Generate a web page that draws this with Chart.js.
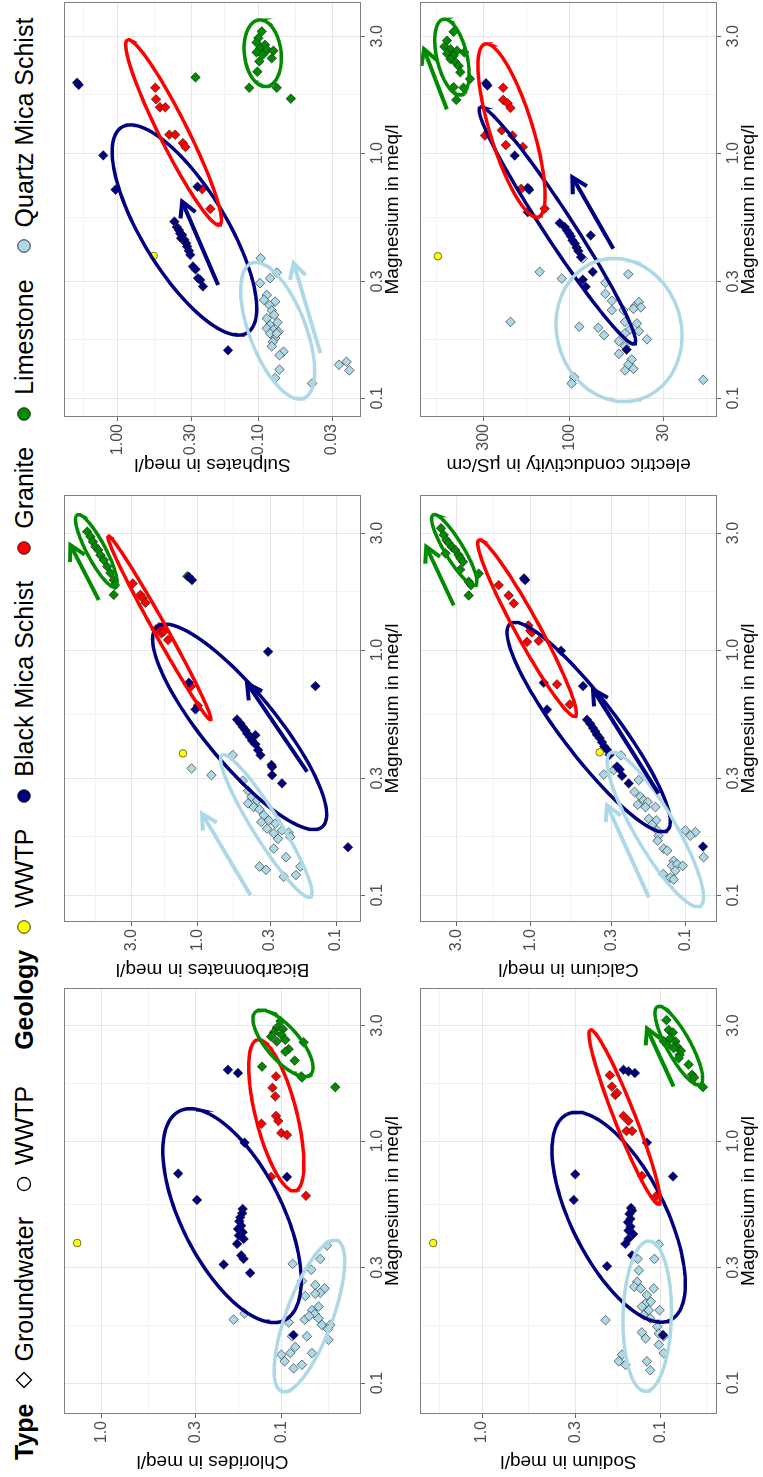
<!DOCTYPE html>
<html>
<head>
<meta charset="utf-8">
<script src="https://cdn.jsdelivr.net/npm/chart.js@4.4.1/dist/chart.umd.min.js"></script>
<style>
  html, body { margin: 0; padding: 0; background: #fff; width: 763px; height: 1477px; overflow: hidden; }
  #fig { position: absolute; left: 0; top: 0; width: 1477px; height: 763px; background: #fff;
         transform-origin: 0 0; transform: translate(0px, 1477px) rotate(-90deg);
         font-family: Arial, "Liberation Sans", sans-serif; }
  #fig canvas { position: absolute; }
  #legend { position: absolute; left: 17px; top: 6px; height: 36px; display: flex; align-items: center;
            font-size: 25px; white-space: nowrap; color: #000; }
  #legend .k { width: 18px; height: 18px; margin-right: 10px; flex: none; }
  #legend b + .k { margin-left: 14px; }
  #legend .t + .k { margin-left: 24px; }
  #legend .t + b { margin-left: 36px; }
</style>
</head>
<body>
<div id="fig">
  <div id="legend">
    <b>Type</b>
    <svg class="k" viewBox="0 0 18 18"><polygon points="9,1.5 16.5,9 9,16.5 1.5,9" fill="none" stroke="#000" stroke-width="1.3"/></svg>
    <span class="t">Groundwater</span>
    <svg class="k" viewBox="0 0 18 18"><circle cx="9" cy="9" r="6.5" fill="none" stroke="#000" stroke-width="1.3"/></svg>
    <span class="t">WWTP</span>
    <b>Geology</b>
    <svg class="k" viewBox="0 0 18 18"><circle cx="9" cy="9" r="6.3" fill="#ffff00" stroke="#000" stroke-width="0.8"/></svg>
    <span class="t">WWTP</span>
    <svg class="k" viewBox="0 0 18 18"><circle cx="9" cy="9" r="6.3" fill="#000080" stroke="#000" stroke-width="0.8"/></svg>
    <span class="t">Black Mica Schist</span>
    <svg class="k" viewBox="0 0 18 18"><circle cx="9" cy="9" r="6.3" fill="#ff0000" stroke="#000" stroke-width="0.8"/></svg>
    <span class="t">Granite</span>
    <svg class="k" viewBox="0 0 18 18"><circle cx="9" cy="9" r="6.3" fill="#008b00" stroke="#000" stroke-width="0.8"/></svg>
    <span class="t">Limestone</span>
    <svg class="k" viewBox="0 0 18 18"><circle cx="9" cy="9" r="6.3" fill="#add8e6" stroke="#000" stroke-width="0.8"/></svg>
    <span class="t">Quartz Mica Schist</span>
  </div>
</div>
<script>
// ---- data: [magnesium, y] in meq/l (EC in uS/cm) ----
const mgTicks = [0.1, 0.3, 1, 3];
const mgTickLabels = ['0.1', '0.3', '1.0', '3.0'];
const mgMinor = [0.173, 0.548, 1.73];

const chlorides = {
  wwtp: [[0.379, 1.36]],
  black: [[1.97,0.198],[1.91,0.174],[0.985,0.16],[0.734,0.374],[0.711,0.093],[0.571,0.294],[0.524,0.164],[0.503,0.165],[0.484,0.169],[0.466,0.171],[0.447,0.167],[0.433,0.174],[0.42,0.164],[0.407,0.172],[0.394,0.162],[0.376,0.176],[0.337,0.167],[0.326,0.162],[0.309,0.209],[0.285,0.149],[0.158,0.0855]],
  granite: [[1.85,0.107],[1.66,0.112],[1.53,0.108],[1.27,0.107],[1.21,0.104],[1.18,0.129],[1.08,0.1],[1.06,0.093],[0.711,0.114],[0.594,0.073]],
  lime: [[3.13,0.101],[2.94,0.106],[2.9,0.098],[2.81,0.11],[2.75,0.1],[2.7,0.114],[2.62,0.095],[2.58,0.106],[2.56,0.0752],[2.4,0.091],[2.34,0.095],[2.15,0.0843],[2.03,0.128],[1.85,0.0775],[1.83,0.0768],[1.67,0.0502]],
  quartz: [[0.37,0.0558],[0.326,0.0608],[0.311,0.0865],[0.294,0.0682],[0.264,0.0768],[0.254,0.0648],[0.246,0.0575],[0.236,0.0608],[0.234,0.0648],[0.229,0.0736],[0.207,0.0621],[0.2,0.0676],[0.193,0.0653],[0.183,0.0742],[0.189,0.07],[0.185,0.0621],[0.174,0.0595],[0.174,0.0535],[0.167,0.0551],[0.156,0.0721],[0.151,0.0547],[0.178,0.091],[0.156,0.0873],[0.131,0.1],[0.133,0.0891],[0.141,0.0836],[0.123,0.0959],[0.115,0.0855],[0.119,0.0768],[0.133,0.0676],[0.183,0.184],[0.194,0.16]]
};
const sodium = {
  wwtp: [[0.379, 1.88]],
  black: [[1.97,0.161],[1.94,0.151],[1.91,0.139],[0.985,0.119],[0.729,0.3],[0.714,0.0849],[0.571,0.306],[0.529,0.146],[0.516,0.144],[0.5,0.149],[0.477,0.147],[0.462,0.152],[0.443,0.147],[0.427,0.151],[0.413,0.142],[0.394,0.151],[0.376,0.157],[0.337,0.144],[0.304,0.199],[0.158,0.0966]],
  granite: [[1.87,0.192],[1.68,0.187],[1.55,0.179],[1.58,0.175],[1.27,0.161],[1.21,0.151],[1.1,0.155],[1.1,0.144],[0.718,0.127],[0.594,0.105]],
  lime: [[3.16,0.0925],[2.88,0.0898],[2.81,0.0849],[2.59,0.0958],[2.66,0.0879],[2.58,0.0824],[2.46,0.0807],[2.36,0.0766],[2.5,0.0918],[2.42,0.0842],[2.27,0.078],[2.07,0.0694],[1.88,0.0664],[1.83,0.0645],[1.67,0.0577],[2.2,0.0789]],
  quartz: [[0.374,0.102],[0.326,0.134],[0.326,0.108],[0.292,0.132],[0.262,0.135],[0.25,0.14],[0.246,0.129],[0.246,0.109],[0.231,0.119],[0.213,0.121],[0.217,0.113],[0.207,0.127],[0.2,0.116],[0.2,0.101],[0.191,0.124],[0.185,0.114],[0.171,0.104],[0.16,0.102],[0.156,0.0958],[0.153,0.121],[0.162,0.127],[0.144,0.102],[0.133,0.0958],[0.131,0.164],[0.123,0.171],[0.119,0.157],[0.123,0.119],[0.113,0.114],[0.182,0.203]]
};
const bicarbonates = {
  wwtp: [[0.379, 1.28]],
  black: [[1.99,1.16],[1.93,1.1],[0.985,0.31],[0.713,0.141],[0.736,1.16],[0.573,1.04],[0.521,0.52],[0.502,0.492],[0.486,0.473],[0.471,0.452],[0.457,0.44],[0.45,0.383],[0.443,0.421],[0.427,0.405],[0.413,0.383],[0.391,0.366],[0.373,0.352],[0.34,0.293],[0.334,0.29],[0.309,0.29],[0.286,0.246],[0.157,0.082]],
  granite: [[1.87,2.95],[1.68,2.6],[1.63,2.5],[1.56,2.39],[1.24,1.91],[1.21,2.02],[1.17,1.83],[1.19,1.76],[1.1,1.64],[0.711,1.12],[0.594,1.0]],
  lime: [[3.04,6.31],[2.9,5.97],[2.77,5.74],[2.64,5.5],[2.56,5.25],[2.44,5.06],[2.33,4.78],[2.19,4.52],[2.06,4.28],[1.93,4.05],[1.84,3.98],[1.68,4.05],[2.0,1.19]],
  quartz: [[0.373,0.558],[0.329,1.11],[0.309,0.797],[0.293,0.473],[0.267,0.433],[0.252,0.409],[0.244,0.372],[0.237,0.433],[0.229,0.394],[0.224,0.358],[0.212,0.333],[0.202,0.307],[0.196,0.275],[0.199,0.347],[0.187,0.315],[0.179,0.282],[0.17,0.263],[0.18,0.22],[0.155,0.282],[0.143,0.23],[0.131,0.358],[0.127,0.321],[0.119,0.239],[0.121,0.195],[0.131,0.181],[0.173,0.214],[0.184,0.246]]
};
const calcium = {
  wwtp: [[0.383, 0.357]],
  black: [[1.96,1.1],[1.93,1.08],[0.994,0.634],[0.736,0.82],[0.713,0.457],[0.572,0.78],[0.52,0.431],[0.5,0.41],[0.481,0.394],[0.466,0.381],[0.452,0.372],[0.438,0.357],[0.421,0.345],[0.404,0.333],[0.392,0.32],[0.374,0.308],[0.335,0.276],[0.326,0.265],[0.307,0.256],[0.286,0.232],[0.158,0.0769]],
  granite: [[1.84,1.6],[1.67,1.38],[1.55,1.28],[1.26,1.03],[1.2,1.0],[1.18,0.976],[1.08,1.05],[1.09,0.883],[0.725,0.673],[0.6,0.557]],
  lime: [[3.14,3.77],[2.95,3.62],[2.81,3.48],[2.73,3.36],[2.63,3.2],[2.56,3.05],[2.44,2.9],[2.37,2.83],[2.29,2.72],[2.48,3.53],[2.13,2.83],[1.9,2.5],[1.84,2.41],[2.05,2.15],[1.67,2.5]],
  quartz: [[0.372,0.26],[0.311,0.336],[0.324,0.29],[0.295,0.2],[0.264,0.213],[0.252,0.195],[0.244,0.186],[0.24,0.175],[0.234,0.203],[0.229,0.181],[0.229,0.156],[0.205,0.172],[0.202,0.154],[0.194,0.164],[0.184,0.152],[0.175,0.149],[0.167,0.151],[0.155,0.138],[0.152,0.131],[0.138,0.119],[0.132,0.122],[0.134,0.113],[0.132,0.104],[0.126,0.116],[0.122,0.139],[0.118,0.125],[0.116,0.119],[0.184,0.1],[0.181,0.0861],[0.175,0.0929],[0.143,0.0762]]
};
const sulphates = {
  wwtp: [[0.381, 0.553]],
  black: [[1.94,1.93],[1.9,1.88],[0.98,1.26],[0.71,1.03],[0.73,0.27],[0.526,0.394],[0.5,0.379],[0.486,0.366],[0.471,0.359],[0.464,0.347],[0.45,0.353],[0.443,0.334],[0.429,0.325],[0.416,0.32],[0.4,0.311],[0.385,0.304],[0.345,0.291],[0.336,0.279],[0.309,0.268],[0.304,0.258],[0.286,0.247],[0.157,0.164]],
  granite: [[1.85,0.538],[1.66,0.532],[1.54,0.499],[1.54,0.457],[1.19,0.428],[1.19,0.389],[1.1,0.343],[1.06,0.329],[0.713,0.25],[0.593,0.219]],
  lime: [[3.14,0.0946],[2.95,0.1],[2.83,0.103],[2.77,0.0896],[2.68,0.0973],[2.64,0.0863],[2.62,0.0782],[2.58,0.103],[2.52,0.093],[2.44,0.0803],[2.37,0.0984],[2.15,0.1016],[2.04,0.279],[1.85,0.116],[1.85,0.074],[1.67,0.0588]],
  quartz: [[0.373,0.0962],[0.326,0.074],[0.309,0.0826],[0.295,0.0973],[0.264,0.0871],[0.248,0.076],[0.24,0.0834],[0.228,0.0803],[0.219,0.0773],[0.204,0.0731],[0.199,0.0826],[0.193,0.0871],[0.19,0.0782],[0.187,0.0719],[0.184,0.0826],[0.176,0.076],[0.17,0.079],[0.155,0.0663],[0.15,0.0708],[0.131,0.0708],[0.121,0.076],[0.115,0.0416],[0.137,0.0268],[0.141,0.0237],[0.13,0.0226],[0.212,0.0871],[0.184,0.074],[0.163,0.0803],[0.252,0.0912]]
};
const conductivity = {
  wwtp: [[0.38, 537]],
  black: [[1.93,290],[1.89,285],[0.978,201],[0.722,170],[0.71,167],[0.575,170],[0.519,113],[0.5,106],[0.484,103],[0.47,100],[0.458,98],[0.441,96],[0.428,93],[0.412,91],[0.399,89],[0.377,86],[0.462,76],[0.328,74],[0.305,84],[0.285,81],[0.158,48]],
  granite: [[1.85,233],[1.65,233],[1.6,220],[1.53,212],[1.24,237],[1.18,207],[1.18,294],[1.08,225],[1.06,181],[0.716,185],[0.594,137]],
  lime: [[3.13,439],[2.88,478],[2.72,494],[2.66,457],[2.55,478],[2.62,420],[2.5,439],[2.58,383],[2.42,457],[2.35,429],[2.27,412],[2.14,403],[2.01,356],[1.86,439],[1.85,387],[1.65,424]],
  quartz: [[0.372,84],[0.328,146],[0.308,110],[0.321,47],[0.296,63],[0.267,63],[0.25,58],[0.229,58],[0.229,50],[0.238,43],[0.247,41],[0.235,40],[0.232,44],[0.205,49],[0.202,42],[0.191,46],[0.184,49],[0.188,41],[0.194,69],[0.181,64],[0.196,88],[0.174,37],[0.171,53],[0.163,49],[0.152,53],[0.144,45],[0.137,47],[0.13,49],[0.132,44],[0.205,212],[0.122,94],[0.115,97],[0.119,18]]
};

// ellipses: [major end, opposite major end, minor end]
const chloridesEllipses = {
  black: [[1.33,0.368],[0.182,0.0959],[0.61,0.1057]],
  granite: [[2.62,0.136],[0.623,0.0836],[1.34,0.0826]],
  lime: [[3.42,0.139],[1.88,0.069],[2.81,0.0836]],
  quartz: [[0.388,0.0524],[0.0924,0.093],[0.205,0.0493]]
};
const sodiumEllipses = {
  black: [[1.29,0.334],[0.182,0.0879],[0.59,0.0995]],
  granite: [[2.88,0.247],[0.549,0.102],[1.3,0.14]],
  lime: [[3.59,0.104],[1.71,0.0597],[2.62,0.069]],
  quartz: [[0.386,0.116],[0.0924,0.121],[0.189,0.0867]]
};
const bicarbonatesEllipses = {
  black: [[1.245,1.97],[0.19,0.126],[0.604,0.315]],
  granite: [[2.92,4.45],[0.521,0.81],[1.27,1.73]],
  lime: [[3.56,7.45],[1.81,3.94],[2.65,4.73]],
  quartz: [[0.373,0.667],[0.0984,0.153],[0.205,0.263]]
};
const calciumEllipses = {
  black: [[1.28,1.35],[0.184,0.131],[0.57,0.302]],
  granite: [[2.81,2.15],[0.537,0.513],[1.3,0.901]],
  lime: [[3.56,4.25],[1.84,2.26],[2.68,2.76]],
  quartz: [[0.38,0.305],[0.0904,0.08],[0.205,0.121]]
};
const sulphatesEllipses = {
  black: [[1.277,0.931],[0.185,0.12],[0.597,0.186]],
  granite: [[2.9,0.849],[0.51,0.188],[1.29,0.325]],
  lime: [[3.5,0.0973],[1.87,0.0891],[2.56,0.0689]],
  quartz: [[0.356,0.1116],[0.1,0.0477],[0.2075,0.0475]]
};
const conductivityEllipses = {
  black: [[1.54,313],[0.167,43.3],[0.549,100]],
  granite: [[2.79,294],[0.549,149],[1.31,161]],
  lime: [[3.52,503],[1.73,400],[2.55,372]],
  quartz: [[0.372,56.4],[0.097,49.6],[0.19,23.7]]
};

// arrows: [tail, head]
const sodiumArrows = { lime: [[1.68,0.0842],[2.92,0.119]] };
const bicarbonatesArrows = { lime: [[1.6,5.2],[2.68,8.33]], black: [[0.319,0.162],[0.731,0.44]], quartz: [[0.1,0.416],[0.215,0.93]] };
const calciumArrows = { lime: [[1.52,3.12],[2.64,4.69]], black: [[0.26,0.149],[0.691,0.394]], quartz: [[0.098,0.172],[0.233,0.32]] };
const sulphatesArrows = { black: [[0.29,0.193],[0.635,0.347]], quartz: [[0.153,0.0363],[0.356,0.0562]] };
const conductivityArrows = { lime: [[1.51,478],[2.66,642]], black: [[0.408,57],[0.798,96]] };

// ---- styles ----
const fills = { wwtp: '#ffff00', black: '#000080', granite: '#ff0000', lime: '#008b00', quartz: '#add8e6' };

Chart.defaults.font.family = 'Arial, "Liberation Sans", sans-serif';

function ellipsePath(e) {
  const [p1, p2, p3] = e.map(p => [Math.log10(p[0]), Math.log10(p[1])]);
  const c = [(p1[0] + p2[0]) / 2, (p1[1] + p2[1]) / 2];
  const a = [p1[0] - c[0], p1[1] - c[1]];
  const b = [p3[0] - c[0], p3[1] - c[1]];
  const pts = [];
  for (let i = 0; i <= 120; i++) {
    const t = i / 120 * 2 * Math.PI;
    pts.push({ x: 10 ** (c[0] + a[0] * Math.cos(t) + b[0] * Math.sin(t)),
               y: 10 ** (c[1] + a[1] * Math.cos(t) + b[1] * Math.sin(t)) });
  }
  return pts;
}

const arrowPlugin = {
  id: 'arrows',
  afterDatasetsDraw(chart, args, opts) {
    const { ctx, scales: { x, y } } = chart;
    Object.entries(opts.list || {}).forEach(([g, [t, h]]) => {
      const x0 = x.getPixelForValue(t[0]), y0 = y.getPixelForValue(t[1]);
      const x1 = x.getPixelForValue(h[0]), y1 = y.getPixelForValue(h[1]);
      const ang = Math.atan2(y1 - y0, x1 - x0);
      const len = 17, spread = 0.5;
      ctx.save();
      ctx.strokeStyle = fills[g];
      ctx.lineWidth = 4;
      ctx.lineJoin = 'miter';
      ctx.beginPath();
      ctx.moveTo(x0, y0);
      ctx.lineTo(x1, y1);
      ctx.stroke();
      ctx.beginPath();
      ctx.moveTo(x1 - len * Math.cos(ang - spread), y1 - len * Math.sin(ang - spread));
      ctx.lineTo(x1, y1);
      ctx.lineTo(x1 - len * Math.cos(ang + spread), y1 - len * Math.sin(ang + spread));
      ctx.stroke();
      ctx.restore();
    });
  }
};

const borderPlugin = {
  id: 'panelBorder',
  afterDatasetsDraw(chart) {
    const { ctx, chartArea: a } = chart;
    ctx.save();
    ctx.strokeStyle = '#808080';
    ctx.lineWidth = 1;
    ctx.strokeRect(a.left + 0.5, a.top + 0.5, a.right - a.left - 1, a.bottom - a.top - 1);
    ctx.restore();
  }
};

function logAxis(pos, min, max, majors, labels, minors, title, size) {
  const lab = new Map(majors.map((v, i) => [v, labels[i]]));
  const all = majors.concat(minors).sort((p, q) => p - q);
  const isMajor = c => c.tick && lab.has(c.tick.value);
  return {
    type: 'logarithmic', position: pos, min, max, bounds: 'data',
    afterBuildTicks: s => { s.ticks = all.map(v => ({ value: v })); },
    afterFit: s => { if (pos === 'left') s.width = size; else s.height = size; },
    ticks: { autoSkip: false, maxRotation: 0, minRotation: 0, padding: 3, color: '#4d4d4d',
             font: { size: 16 }, callback: v => (lab.has(v) ? lab.get(v) : '') },
    grid: { color: c => (isMajor(c) ? '#e6e6e6' : '#f3f3f3'), lineWidth: 1, tickLength: 4,
            tickColor: c => (isMajor(c) ? '#666666' : 'rgba(0,0,0,0)') },
    border: { display: false },
    title: { display: true, text: title, color: '#000', font: { size: 19 },
             padding: pos === 'left' ? { top: 4, bottom: 0 } : { top: 0, bottom: 1 } }
  };
}

const fig = document.getElementById('fig');

function makePanel(p) {
  const [L, T, R, B] = p.box;
  const cv = document.createElement('canvas');
  cv.width = R - L + 63 + 8;
  cv.height = B - T + 14 + 44;
  cv.style.left = (L - 63) + 'px';
  cv.style.top = (T - 14) + 'px';
  fig.appendChild(cv);

  const datasets = [];
  ['quartz', 'lime', 'granite', 'black'].forEach(g => {
    datasets.push({ data: ellipsePath(p.ellipses[g]), showLine: true, borderColor: fills[g],
                    borderWidth: 3.5, pointRadius: 0, fill: false, order: 1 });
  });
  ['wwtp', 'black', 'granite', 'lime', 'quartz'].forEach(g => {
    datasets.push({ data: p.points[g].map(([x, y]) => ({ x, y })), order: 2,
                    pointStyle: g === 'wwtp' ? 'circle' : 'rectRot',
                    pointRadius: g === 'wwtp' ? 3.8 : 4.8,
                    backgroundColor: fills[g], borderColor: '#1a1a1a', borderWidth: 0.6 });
  });

  new Chart(cv, {
    type: 'scatter',
    data: { datasets },
    options: {
      responsive: false, animation: false, devicePixelRatio: 1, events: [],
      layout: { padding: { left: 0, top: 14, right: 8, bottom: 0 } },
      plugins: { legend: { display: false }, tooltip: { enabled: false }, arrows: { list: p.arrows } },
      scales: {
        x: logAxis('bottom', p.xr[0], p.xr[1], mgTicks, mgTickLabels, mgMinor, 'Magnesium in meq/l', 44),
        y: logAxis('left', p.yr[0], p.yr[1], p.yt, p.yl, p.ym, p.title, 63)
      }
    },
    plugins: [arrowPlugin, borderPlugin]
  });
}

const tick1 = [0.1, 0.3, 1], lab1 = ['0.1', '0.3', '1.0'];
const tick2 = [0.1, 0.3, 1, 3], lab2 = ['0.1', '0.3', '1.0', '3.0'];

makePanel({ box: [63, 64, 489, 361], xr: [0.0745, 4.29], yr: [0.0361, 1.61], yt: tick1, yl: lab1,
            ym: [0.0548, 0.173, 0.548], title: 'Chlorides in meq/l',
            points: chlorides, ellipses: chloridesEllipses, arrows: {} });
makePanel({ box: [63, 420, 489, 717], xr: [0.0745, 4.29], yr: [0.0481, 2.23], yt: tick1, yl: lab1,
            ym: [0.0548, 0.173, 0.548, 1.73], title: 'Sodium in meq/l',
            points: sodium, ellipses: sodiumEllipses, arrows: sodiumArrows });
makePanel({ box: [555, 64, 982, 361], xr: [0.0778, 4.29], yr: [0.066, 9.28], yt: tick2, yl: lab2,
            ym: [0.173, 0.548, 1.73, 5.48], title: 'Bicarbonnates in meq/l',
            points: bicarbonates, ellipses: bicarbonatesEllipses, arrows: bicarbonatesArrows });
makePanel({ box: [555, 420, 982, 717], xr: [0.0778, 4.29], yr: [0.0625, 5.15], yt: tick2, yl: lab2,
            ym: [0.173, 0.548, 1.73], title: 'Calcium in meq/l',
            points: calcium, ellipses: calciumEllipses, arrows: calciumArrows });
makePanel({ box: [1060, 64, 1475, 361], xr: [0.0839, 4.14], yr: [0.0187, 2.39], yt: [0.03, 0.1, 0.3, 1],
            yl: ['0.03', '0.10', '0.30', '1.00'], ym: [0.0548, 0.173, 0.548, 1.73], title: 'Sulphates in meq/l',
            points: sulphates, ellipses: sulphatesEllipses, arrows: sulphatesArrows });
makePanel({ box: [1060, 420, 1475, 717], xr: [0.0839, 4.14], yr: [15.1, 675], yt: [30, 100, 300],
            yl: ['30', '100', '300'], ym: [17.3, 54.8, 173, 548], title: 'electric conductivity in µS/cm',
            points: conductivity, ellipses: conductivityEllipses, arrows: conductivityArrows });
</script>
</body>
</html>
